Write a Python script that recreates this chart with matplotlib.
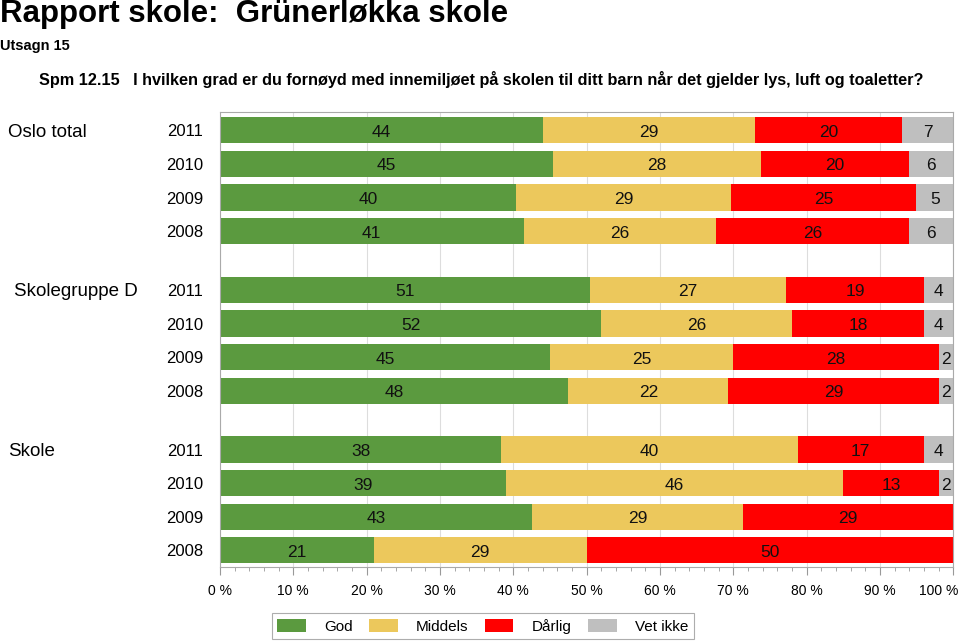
import matplotlib.pyplot as plt
from matplotlib.patches import Patch
from matplotlib.ticker import MultipleLocator
import matplotlib.transforms as mtransforms

plt.rcParams['font.family'] = ['Liberation Sans', 'DejaVu Sans']

groups = ['Oslo total', 'Skolegruppe D', 'Skole']
years = ['2011', '2010', '2009', '2008']
categories = ['God', 'Middels', 'Dårlig', 'Vet ikke']
colors = ['#5b9a3f', '#ecc85c', '#ff0000', '#bfbfbf']
xticks = [0, 10, 20, 30, 40, 50, 60, 70, 80, 90, 100]

# one row per bar, order: group, then year (2011..2008)
god = [44, 45, 40, 41, 51, 52, 45, 48, 38, 39, 43, 21]
middels = [29, 28, 29, 26, 27, 26, 25, 22, 40, 46, 29, 29]
darlig = [20, 20, 25, 26, 19, 18, 28, 29, 17, 13, 29, 50]
vet_ikke = [7, 6, 5, 6, 4, 4, 2, 2, 4, 2, 0, 0]

series = [god, middels, darlig, vet_ikke]

fig = plt.figure(figsize=(9.6, 6.43), dpi=100)
ax = fig.add_axes([0.229, 0.118, 0.764, 0.708])

# bar positions: 4 per group, gap of 1.75 slots between groups
ypos = []
for g in range(len(groups)):
    for k in range(len(years)):
        ypos.append(g * 4.75 + k)

n = len(god)
totals = [sum(s[i] for s in series) for i in range(n)]
left = [0.0] * n
for s, c in zip(series, colors):
    widths = [s[i] * 100.0 / totals[i] for i in range(n)]
    ax.barh(ypos, widths, left=left, height=0.78, color=c, zorder=2)
    for i in range(n):
        if s[i] > 0:
            ax.text(left[i] + widths[i] / 2, ypos[i] + 0.06, str(s[i]),
                    ha='center', va='center', fontsize=12.5, color='#111111', zorder=3)
    left = [left[i] + widths[i] for i in range(n)]

ax.set_xlim(0, 100)
ax.set_ylim(13.0, -0.55)
ax.set_xticks(xticks)
ax.xaxis.set_minor_locator(MultipleLocator(2))
# last label drawn by hand so it stays inside the figure
ax.set_xticklabels([f'{v} %' for v in xticks[:-1]] + [''], fontsize=10)
ax.annotate(f'{xticks[-1]} %', xy=(xticks[-1], 0), xycoords=('data', 'axes fraction'),
            xytext=(4, -12), textcoords='offset points', ha='right', va='top',
            fontsize=10)
ax.tick_params(axis='x', which='major', length=6, color='#999999', pad=6)
ax.tick_params(axis='x', which='minor', length=3, color='#999999')
ax.grid(axis='x', color='#dddddd', linewidth=0.8, zorder=0)
ax.set_yticks(ypos)
ax.set_yticklabels(years * len(groups), fontsize=12)
ax.tick_params(axis='y', length=0, pad=12)
for sp in ax.spines.values():
    sp.set_color('#aaaaaa')

trans = mtransforms.blended_transform_factory(fig.transFigure, ax.transData)
group_x = [0.008, 0.015, 0.008]
for g, name in enumerate(groups):
    ax.text(group_x[g], g * 4.75 + 0.05, name, transform=trans,
            ha='left', va='center', fontsize=13.5)

fig.text(0.0, 0.978, 'Rapport skole:  Grünerløkka skole', fontsize=22.5,
         fontweight='bold', ha='left', va='center')
fig.text(0.0, 0.928, 'Utsagn 15', fontsize=10.5, fontweight='bold',
         ha='left', va='center')
fig.text(0.041, 0.877,
         'Spm 12.15   I hvilken grad er du fornøyd med innemiljøet på skolen til ditt barn når det gjelder lys, luft og toaletter?',
         fontsize=11.7, fontweight='bold', ha='left', va='center')

handles = [Patch(facecolor=c, edgecolor='none') for c in colors]
leg = fig.legend(handles, categories, loc='center', bbox_to_anchor=(0.503, 0.0264),
                 ncol=4, frameon=True, fancybox=False, fontsize=11,
                 handlelength=1.85, handleheight=0.9, columnspacing=1.1,
                 handletextpad=1.2, borderpad=0.35)
leg.get_frame().set_edgecolor('#999999')
leg.get_frame().set_linewidth(0.8)

fig.savefig('out.png', dpi=100)
